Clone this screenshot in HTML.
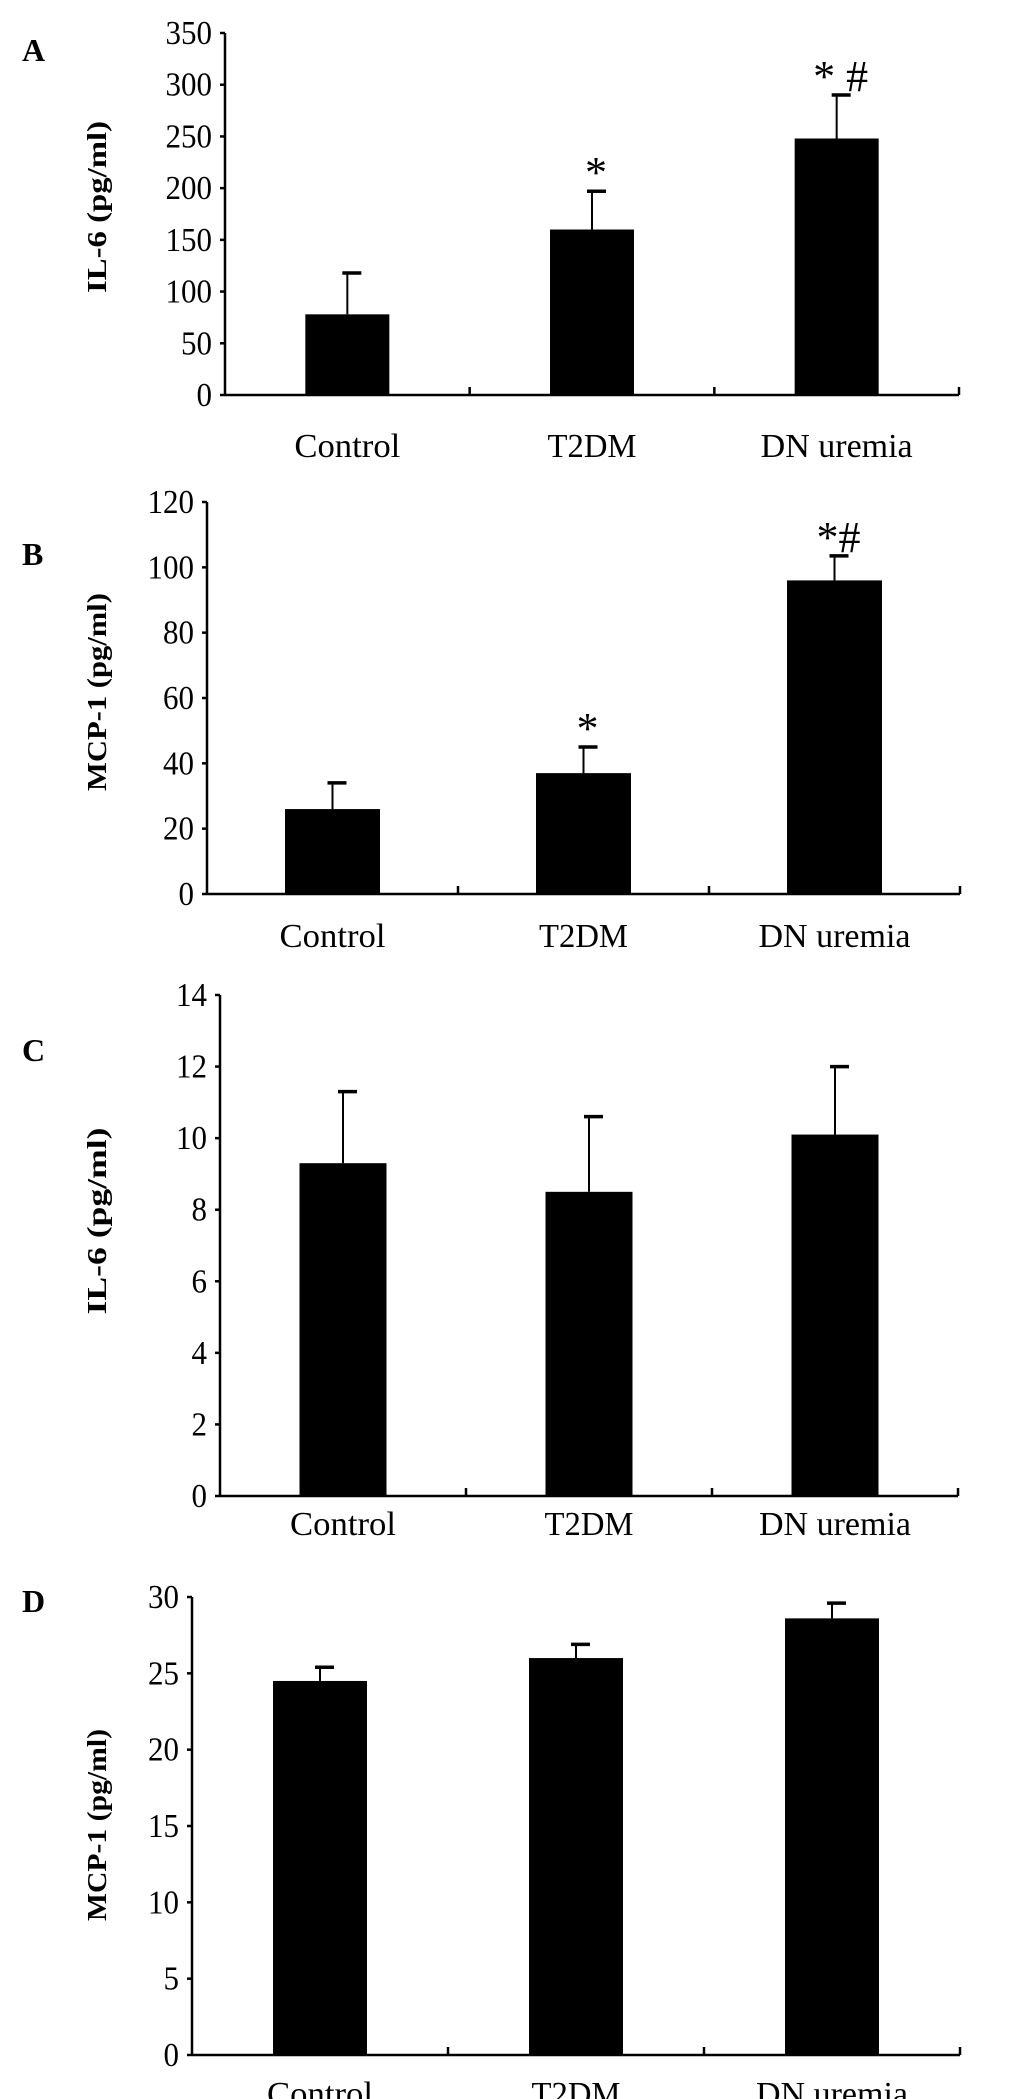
<!DOCTYPE html>
<html><head><meta charset="utf-8"><style>
html,body{margin:0;padding:0;background:#fff;}
svg{display:block;}
text{font-family:"Liberation Serif",serif;fill:#000;}
</style></head><body>
<svg id="fig" width="1035" height="2099" viewBox="0 0 1035 2099"></svg>
<script>
const categories = ["Control", "T2DM", "DN uremia"];
const aValues = [78, 160, 248];
const aErrors = [118, 197, 290];
const aTicks = [0, 50, 100, 150, 200, 250, 300, 350];
const aMarks = ["", "*", "* #"];
const bValues = [26, 37, 96];
const bErrors = [34, 45, 103.5];
const bTicks = [0, 20, 40, 60, 80, 100, 120];
const bMarks = ["", "*", "*#"];
const cValues = [9.3, 8.5, 10.1];
const cErrors = [11.3, 10.6, 12.0];
const cTicks = [0, 2, 4, 6, 8, 10, 12, 14];
const cMarks = ["", "", ""];
const dValues = [24.5, 26.0, 28.6];
const dErrors = [25.4, 26.9, 29.6];
const dTicks = [0, 5, 10, 15, 20, 25, 30];
const dMarks = ["", "", ""];

const NS = "http://www.w3.org/2000/svg";
const svg = document.getElementById("fig");
const labelLens = {"Control": 106, "T2DM": 89, "DN uremia": 152};
function mk(tag, attrs, parent, txt) {
  const e = document.createElementNS(NS, tag);
  for (const k in attrs) e.setAttribute(k, attrs[k]);
  if (txt !== undefined) e.textContent = txt;
  (parent || svg).appendChild(e);
  return e;
}

function panel(cfg, values, errors, ticks, marks) {
  const g = mk("g", {});
  
  
  const x0 = cfg.x0, x1 = cfg.x1, yTop = cfg.yTop, yZero = cfg.yZero;
  const maxV = ticks[ticks.length - 1];
  const yScale = v => yZero - (v / maxV) * (yZero - yTop);
  const band = (x1 - x0) / categories.length;
  const xCenter = i => x0 + band * (i + 0.5);
  const barW = cfg.barW;

  const letter = mk("text", {x: 22, y: cfg.letterY, "font-size": 32, "font-weight": "bold"}, g, cfg.letter);
  
  

  const title = mk("text", {x: 0, y: 0, "font-size": 27, "font-weight": "bold", "text-anchor": "middle",
    textLength: cfg.titleLen, lengthAdjust: "spacingAndGlyphs",
    transform: "translate(" + (cfg.titleX + 9) + "," + cfg.titleY + ") rotate(-90)"}, g, cfg.title);
  
  

  const ya = mk("line", {x1: x0, y1: yTop, x2: x0, y2: yZero, stroke: "#000", "stroke-width": 2.5}, g);
  
  
  const xa = mk("line", {x1: x0, y1: yZero, x2: x1, y2: yZero, stroke: "#000", "stroke-width": 2.5}, g);
  
  

  ticks.forEach(t => {
    const y = yScale(t);
    const tm = mk("line", {x1: x0 - 5, y1: y, x2: x0, y2: y, stroke: "#000", "stroke-width": 2.5}, g);
    
    
    const s = String(t);
    const tl = mk("text", {x: x0 - 13, y: y + 11, "font-size": 34, "text-anchor": "end",
      textLength: s.length * 15.5, lengthAdjust: "spacingAndGlyphs"}, g, s);
    
    
  });
  for (let i = 1; i <= categories.length; i++) {
    const x = x0 + band * i;
    const tm = mk("line", {x1: x, y1: yZero - 8, x2: x, y2: yZero, stroke: "#000", "stroke-width": 2.5}, g);
    
    
  }

  categories.forEach((c, i) => {
    const cx = xCenter(i);
    const top = yScale(values[i]);
    const bar = mk("rect", {x: cx - barW / 2, y: top, width: barW, height: yZero - top, fill: "#000"}, g);
    
    
    const ey = yScale(errors[i]);
    const el = mk("line", {x1: cx, y1: top, x2: cx, y2: ey, stroke: "#000", "stroke-width": 2}, g);
    
    
    const ec = mk("line", {x1: cx - 5, y1: ey, x2: cx + 14, y2: ey, stroke: "#000", "stroke-width": 3.5}, g);
    
    
    if (marks[i]) {
      const m = mk("text", {x: cx + 4, y: ey - 4, "font-size": 44, "text-anchor": "middle"}, g, marks[i]);
      
      
    }
    const lab = mk("text", {x: cx, y: cfg.labelY, "font-size": 34, "text-anchor": "middle",
      textLength: labelLens[c], lengthAdjust: "spacingAndGlyphs"}, g, c);
    
    
  });
}

panel({letter: "A", letterY: 61, title: "IL-6 (pg/ml)", titleX: 97, titleY: 207, titleLen: 172,
  x0: 225, x1: 959, yTop: 33, yZero: 395, barW: 84, labelY: 457}, aValues, aErrors, aTicks, aMarks);
panel({letter: "B", letterY: 565, title: "MCP-1 (pg/ml)", titleX: 97, titleY: 692, titleLen: 198,
  x0: 207, x1: 960, yTop: 502, yZero: 894, barW: 95, labelY: 947}, bValues, bErrors, bTicks, bMarks);
panel({letter: "C", letterY: 1061, title: "IL-6 (pg/ml)", titleX: 97, titleY: 1221, titleLen: 187,
  x0: 220, x1: 958, yTop: 995, yZero: 1496, barW: 87, labelY: 1535}, cValues, cErrors, cTicks, cMarks);
panel({letter: "D", letterY: 1612, title: "MCP-1 (pg/ml)", titleX: 97, titleY: 1825, titleLen: 192,
  x0: 192, x1: 960, yTop: 1597, yZero: 2055, barW: 94, labelY: 2105}, dValues, dErrors, dTicks, dMarks);
</script>
</body></html>
